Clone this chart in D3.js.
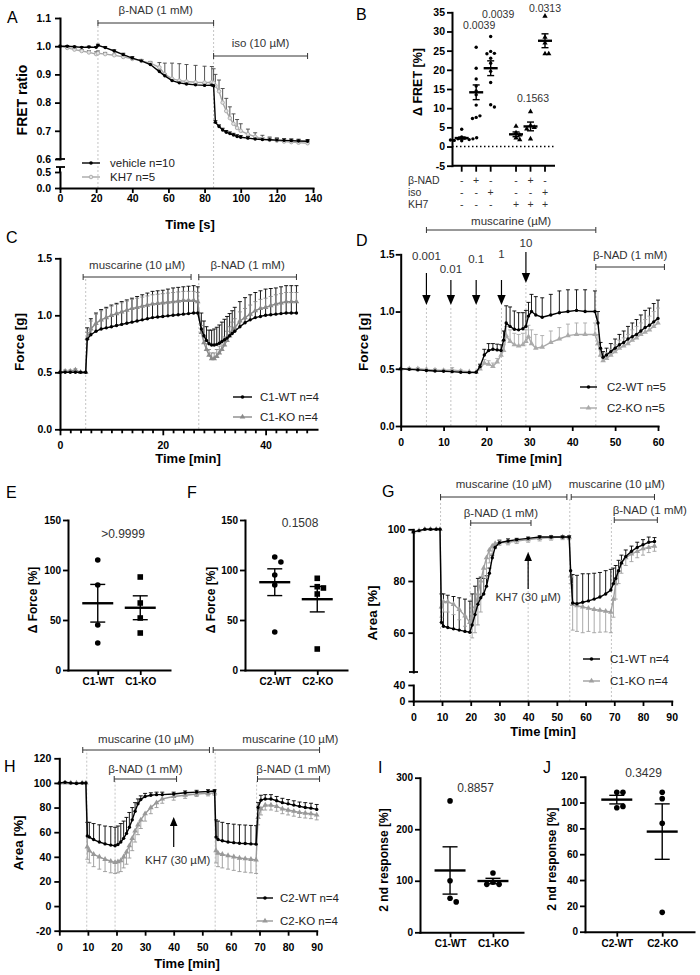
<!DOCTYPE html>
<html>
<head>
<meta charset="utf-8">
<script src="https://cdn.jsdelivr.net/npm/d3@7"></script>
<style>
body { margin: 0; background: #fff; }
svg { display: block; }
</style>
</head>
<body>
<svg id="fig" width="700" height="975"></svg>
<script>
// ---------------- data ----------------
// A: FRET ratio over time (s)
var aTime = [0,4,8,12,16,20,21,25,30,35,40,45,50,55,58,62,66,70,75,80,84,85,86,88,90,92,94,96,98,100,104,108,112,116,120,124,128,132,137];
var aVehicle = [1.0,1.0,0.998,0.996,0.997,0.996,1.003,0.995,0.983,0.97,0.958,0.948,0.935,0.91,0.895,0.878,0.87,0.866,0.863,0.861,0.862,0.86,0.73,0.715,0.703,0.695,0.69,0.685,0.68,0.677,0.674,0.671,0.669,0.668,0.667,0.666,0.665,0.664,0.663];
var aVehicleSem = [0,0.002,0.002,0.002,0.003,0.003,0.004,0.004,0.004,0.005,0.005,0.005,0.006,0.006,0.006,0.006,0.006,0.006,0.006,0.006,0.006,0.006,0.006,0.006,0.006,0.006,0.006,0.006,0.006,0.006,0.006,0.006,0.006,0.006,0.006,0.006,0.006,0.006,0.006];
var aKH7 = [1.0,0.994,0.988,0.983,0.978,0.972,0.975,0.972,0.968,0.962,0.955,0.948,0.94,0.925,0.9,0.885,0.878,0.875,0.872,0.871,0.872,0.87,0.86,0.84,0.8,0.77,0.745,0.725,0.71,0.7,0.688,0.679,0.672,0.668,0.665,0.662,0.66,0.658,0.656];
var aKH7Sem = [0,0.003,0.004,0.005,0.006,0.008,0.008,0.006,0.004,0.003,0.002,0.003,0.006,0.017,0.04,0.055,0.06,0.06,0.06,0.058,0.056,0.05,0.04,0.04,0.05,0.045,0.04,0.035,0.03,0.025,0.018,0.014,0.012,0.01,0.01,0.01,0.01,0.01,0.01];
var aTreat = [['β-NAD (1 mM)', 21, 85], ['iso (10 µM)', 85, 137]];
var aGuides = [21, 85];
var aTicksX = [0,20,40,60,80,100,120,140];
var aTicksUp = [0.6,0.7,0.8,0.9,1.0,1.1];
var aTicksLow = [0,0.5];

// B: delta FRET scatter
var bNAD = ['-','+','-','-','+','-'];
var bIso = ['-','-','+','-','-','+'];
var bKH7 = ['-','-','-','+','+','+'];
var bValues = [
  [4.5,2.5,2.2,2.0,1.8,1.6,1.5,2.0,1.7,2.3],
  [25.9,20.4,17.6,15.8,14.5,10.8,7.6,8.0,7.3,13.5],
  [28.7,24.8,24.3,24.2,23.0,21.7,19.6,16.7,10.9,10.3],
  [5.3,3.6,3.0,2.2,1.8],
  [9.1,5.5,5.0,4.6,2.0],
  [34.0,28.5,27.0,24.2,24.2]
];
var bPvals = ['', '0.0039', '0.0039', '', '0.1563', '0.0313'];
var bTicksY = [-5,0,5,10,15,20,25,30,35];

// C: force, C1
var cTime = [0,1,2,3,4,5,5.3,6,7,8,9,10,11,12,13,14,15,16,17,18,19,20,21,22,23,24,25,26,26.8,27.5,28,28.5,29,29.5,30,30.5,31,31.5,32,32.5,33,33.5,34,35,36,37,38,39,40,41,42,43,44,45,46];
var cWT = [0.5,0.5,0.5,0.5,0.5,0.5,0.79,0.83,0.86,0.88,0.89,0.9,0.91,0.92,0.93,0.94,0.95,0.96,0.97,0.98,0.985,0.99,0.995,1.0,1.005,1.01,1.015,1.02,1.02,0.88,0.82,0.78,0.75,0.74,0.74,0.745,0.755,0.77,0.785,0.8,0.82,0.84,0.86,0.9,0.935,0.96,0.98,0.99,1.0,1.005,1.01,1.015,1.02,1.02,1.02];
var cWTSem = [0,0,0,0,0,0,0.1,0.14,0.16,0.17,0.18,0.19,0.195,0.2,0.205,0.21,0.215,0.22,0.225,0.23,0.23,0.23,0.235,0.24,0.24,0.24,0.24,0.24,0.23,0.14,0.13,0.12,0.12,0.13,0.14,0.15,0.16,0.17,0.18,0.19,0.195,0.2,0.21,0.22,0.22,0.22,0.22,0.225,0.23,0.23,0.23,0.235,0.24,0.24,0.24];
var cKO = [0.5,0.51,0.51,0.52,0.5,0.5,0.8,0.88,0.93,0.96,0.98,1.0,1.015,1.03,1.045,1.06,1.07,1.08,1.09,1.1,1.105,1.11,1.115,1.12,1.125,1.13,1.13,1.13,1.12,0.85,0.76,0.7,0.65,0.62,0.62,0.64,0.67,0.7,0.74,0.78,0.82,0.86,0.89,0.95,0.98,1.01,1.04,1.06,1.07,1.085,1.1,1.11,1.12,1.12,1.12];
var cKOSem = [0,0.01,0.01,0.01,0,0,0.05,0.07,0.08,0.08,0.08,0.08,0.08,0.08,0.08,0.08,0.08,0.08,0.08,0.08,0.08,0.08,0.08,0.08,0.08,0.08,0.08,0.08,0.08,0.06,0.05,0.05,0.05,0.05,0.05,0.06,0.06,0.07,0.07,0.08,0.08,0.08,0.08,0.08,0.08,0.08,0.08,0.08,0.08,0.08,0.08,0.08,0.08,0.08,0.08];
var cTreat = [['muscarine (10 µM)', 4.5, 25.5], ['β-NAD (1 mM)', 27, 46]];
var cGuides = [5, 27];

// D: force, C2
var dTime = [0,2,4,6,8,10,12,14,16,17.6,18.5,19.5,20.5,21.5,22.5,23.4,24,24.6,25.5,26.5,27.5,28.5,29.2,29.8,30.5,31.5,33,35,37,39,41,43,45.3,46,46.6,47.2,48,49,50,51,52,53,54,55,56,57,58,59,60];
var dWT = [0.5,0.495,0.49,0.485,0.48,0.478,0.475,0.47,0.468,0.47,0.52,0.62,0.66,0.67,0.665,0.66,0.75,0.9,0.87,0.845,0.84,0.85,0.87,0.96,1.0,0.97,0.95,0.97,0.99,1.0,1.01,1.0,1.0,0.9,0.68,0.6,0.62,0.65,0.68,0.71,0.73,0.76,0.78,0.8,0.83,0.86,0.88,0.91,0.94];
var dWTSem = [0,0,0,0,0,0,0,0,0,0,0.02,0.05,0.06,0.05,0.05,0.05,0.08,0.15,0.17,0.16,0.15,0.14,0.14,0.12,0.15,0.16,0.17,0.18,0.19,0.19,0.18,0.19,0.18,0.1,0.05,0.05,0.06,0.07,0.08,0.09,0.1,0.11,0.12,0.13,0.14,0.15,0.15,0.16,0.16];
var dKO = [0.5,0.5,0.5,0.495,0.49,0.485,0.49,0.48,0.475,0.47,0.5,0.55,0.54,0.52,0.56,0.62,0.66,0.79,0.74,0.71,0.7,0.71,0.74,0.78,0.72,0.68,0.69,0.73,0.76,0.79,0.8,0.8,0.8,0.72,0.62,0.57,0.59,0.62,0.65,0.68,0.7,0.72,0.75,0.77,0.8,0.82,0.84,0.87,0.9];
var dKOSem = [0,0.01,0.01,0,0.01,0.01,0.02,0.01,0,0,0.01,0.03,0.03,0.03,0.03,0.04,0.05,0.08,0.1,0.1,0.1,0.1,0.1,0.1,0.12,0.12,0.1,0.1,0.1,0.1,0.1,0.1,0.1,0.08,0.05,0.05,0.05,0.05,0.06,0.07,0.07,0.08,0.09,0.1,0.1,0.11,0.12,0.13,0.13];
var dConcLabels = ['0.001','0.01','0.1','1','10'];
var dConcTimes = [6, 11.7, 17.6, 23.5, 29.2];
var dTreat = [['muscarine (µM)', 6, 45.5], ['β-NAD (1 mM)', 45.5, 61.5]];

// E, F: delta force
var eCats = ['C1-WT', 'C1-KO'];
var eWT = [110, 85, 45, 27];
var eKO = [93, 67, 52, 37];
var eP = '>0.9999';
var fCats = ['C2-WT', 'C2-KO'];
var fWT = [113, 108, 95, 85, 38];
var fKO = [91.7, 83.3, 82, 76, 21];
var fP = '0.1508';

// G: area, C1
var gTime = [0,2,4,6,8,9.3,9.8,10.5,12,14,16,18,19.7,20.5,21.5,22.5,23.5,24.5,25.5,26.5,27.5,28.5,30,33,36,40,44,48,52,54.3,54.8,55.5,57,59,61,63,65,67,68.8,69.7,70.5,71.5,72.5,74,76,78,80,82,84];
var gWT = [99,99.5,100,100,100,100,64,62.5,62,61.5,61,60.5,60.2,63,67,71,73.5,75,78,83,89,93,94.8,95.5,96,96.5,97,97,97,97,84,71.5,71.2,71.8,72.3,73,73.8,75,76.5,79,81,84,87,89.5,91.5,93,94,95,95.3];
var gWTSem = [0,0,0,0,0,0,11,12.5,12.5,12.5,12.5,12.5,12,12,11,10,8,6,4,2,1,1,1,0.8,0.5,0.5,0.5,0.5,0.5,0.5,0,11,11,11,10.5,10,9.5,9,8,6,5,4,3,2.5,2,2,2,2,1.5];
var gKO = [99,99.5,100,100,100,100,70,72,72,71,69,66.5,64,66,70,75,80,85,89,92,93.5,94.5,94.8,95,95.5,96,96.5,96.8,97,97,82,71,70.5,70,69.5,69,68.7,68.3,68,73,79,84,87,89,90.5,91.5,92.5,93,93.5];
var gKOSem = [0,0,0,0,0,0,4,4,4,4,4,4,4,8,10,12,12,10,8,5,3,2,1,1,1,1,1,1,1,1,3,10,10,10,9,9,8.5,8,8,7,6,5,4,3,3,2.5,2.5,2,2];
var gTreat = [['muscarine (10 µM)', 9.5, 53.5], ['muscarine (10 µM)', 55, 84], ['β-NAD (1 mM)', 20, 41], ['β-NAD (1 mM)', 70, 85]];
var gGuides = [9.5, 19.8, 40, 54.5, 69];
var gKH7Time = 40;

// H: area, C2
var hTime = [0,2,4,6,8,9.3,9.8,10.5,12,14,16,18,19.5,20.5,21.5,22.5,23.5,24.5,25.5,26.5,27.5,28.5,30,32,34,36,40,44,48,52,54.3,54.8,55.5,57,59,61,63,65,67,68.8,69.5,70.5,72,74,76,78,80,82,84,86,88,90];
var hWT = [100,100.5,100,99.5,100,100,57,56,54,52,50.5,49.5,49,50,52,55,59,64,70,77,83,86.5,89,90,90.5,90.5,91,92,92.5,93,93.5,56,54,53,52,51.5,51,50.8,50.5,50.3,80,86,87,87,85.5,84,83,82,81,80,79.5,78.5];
var hWTSem = [0,0,0,0,0,0,11,12,13,14,14.5,15,15,15,15,14,13,12,10,7,4,3,2.5,2,2,2,1.5,1.5,1.5,1.5,1,14,15,15,15,15,15,15,15,15,4,4,3.5,3.5,3.5,3.5,3.5,3.5,3.5,4,4,4];
var hKO = [100,100,100,100,100,100,48,45,42,40,38,36.5,35.5,36,37,40,44,49,55,61,66,70,75,80,84,87,89,90,91,91.5,92,45,43,42,41,40,39,38.5,38,37.5,72,79,82,82,81,79,78,77,76,75.5,75,74];
var hKOSem = [0,0,0,0,0,0,10,10,10,10,10,9.5,9,9,9,9,10,10,10,9,8,7,6,5,4,3.5,3,2.5,2,2,2,10,11,11,11,11,11,11,11,11,6,5,4,4,4,4,4,4,4,4,4,4];
var hTreat = [['muscarine (10 µM)', 8.2, 52.5], ['muscarine (10 µM)', 53.8, 91], ['β-NAD (1 mM)', 19.2, 41], ['β-NAD (1 mM)', 69.3, 91]];
var hGuides = [9.6, 19.5, 54.5, 69];
var hKH7Time = 40;

// I, J: 2nd response
var iCats = ['C1-WT', 'C1-KO'];
var iWT = [255, 100, 66, 59];
var iKO = [115, 97, 93, 93];
var iP = '0.8857';
var jCats = ['C2-WT', 'C2-KO'];
var jWT = [108, 108, 96, 97];
var jKO = [108, 103, 84, 15];
var jP = '0.3429';

// ---------------- helpers ----------------
var FONT = '"Liberation Sans", Arial, Helvetica, sans-serif';
var svg = d3.select('#fig').attr('font-family', FONT);
var fmt1 = d3.format('.1f');
var plain = function(d) { return String(d); };

function txt(x, y, s, opt) {
	opt = opt || {};
	return svg.append('text')
		.attr('x', x)
		.attr('y', y)
		.attr('text-anchor', opt.anchor || 'start')
		.attr('font-size', (opt.size || 11.5) + 'px')
		.attr('font-weight', opt.bold ? 'bold' : 'normal')
		.attr('fill', opt.fill || '#000')
		.text(s);
}

function line(x1, y1, x2, y2, color, w, dash) {
	var l = svg.append('line')
		.attr('x1', x1).attr('y1', y1)
		.attr('x2', x2).attr('y2', y2)
		.attr('stroke', color || '#000')
		.attr('stroke-width', w || 1);
	if (dash) l.attr('stroke-dasharray', dash);
	return l;
}

function styleAxis(g, fs) {
	g.attr('font-family', FONT).attr('font-size', fs || 10.5).attr('font-weight', 'bold');
	g.select('.domain').attr('stroke-width', 2).attr('stroke', '#000').attr('stroke-linecap', 'square');
	g.selectAll('.tick line').attr('stroke-width', 1.8).attr('stroke', '#000');
	g.selectAll('.tick text').attr('fill', '#000');
	return g;
}

function yAxis(scale, x, ticks, f, pad, fs) {
	return styleAxis(svg.append('g')
		.attr('transform', 'translate(' + x + ',0)')
		.call(d3.axisLeft(scale).tickValues(ticks).tickFormat(f).tickSize(5).tickSizeOuter(0).tickPadding(pad == null ? 3 : pad)), fs);
}

function xAxis(scale, y, ticks, f, pad, fs) {
	return styleAxis(svg.append('g')
		.attr('transform', 'translate(0,' + y + ')')
		.call(d3.axisBottom(scale).tickValues(ticks).tickFormat(f).tickSize(5).tickSizeOuter(0).tickPadding(pad == null ? 3 : pad)), fs);
}

function yTitle(s, x, y, size) {
	svg.append('text')
		.attr('transform', 'translate(' + x + ',' + y + ') rotate(-90)')
		.attr('text-anchor', 'middle')
		.attr('dy', '0.35em')
		.attr('font-size', (size || 13) + 'px')
		.attr('font-weight', 'bold')
		.text(s);
}

function xTitle(s, x, y) {
	txt(x, y, s, {anchor: 'middle', size: 13, bold: true});
}

function letter(s, x, y) {
	txt(x, y, s, {size: 16});
}

function mark(x, y, color, marker, r) {
	r = r || 1.7;
	if (marker === 'tri') {
		svg.append('path')
			.attr('d', d3.symbol().type(d3.symbolTriangle).size(r * r * 4.2)())
			.attr('transform', 'translate(' + x + ',' + y + ')')
			.attr('fill', color);
	} else if (marker === 'square') {
		svg.append('rect')
			.attr('x', x - r).attr('y', y - r)
			.attr('width', 2 * r).attr('height', 2 * r)
			.attr('fill', color);
	} else if (marker === 'open') {
		svg.append('circle')
			.attr('cx', x).attr('cy', y).attr('r', r)
			.attr('fill', '#e4e4e4').attr('stroke', color).attr('stroke-width', 0.9);
	} else {
		svg.append('circle')
			.attr('cx', x).attr('cy', y).attr('r', r)
			.attr('fill', color);
	}
}

// error bars of a time course, dir = 1 up, -1 down
function errBars(xs, ys, t, m, e, dir, color) {
	t.forEach(function(tt, i) {
		if (!e[i]) return;
		var x = xs(tt), y0 = ys(m[i]), y1 = ys(m[i] + dir * e[i]);
		line(x, y0, x, y1, color, 0.9);
		line(x - 2, y1, x + 2, y1, color, 0.9);
	});
}

function trace(xs, ys, t, m, color, marker, r) {
	var pts = t.map(function(tt, i) { return [xs(tt), ys(m[i])]; });
	svg.append('path')
		.attr('d', d3.line()(pts))
		.attr('fill', 'none')
		.attr('stroke', color)
		.attr('stroke-width', 1.4);
	pts.forEach(function(p) { mark(p[0], p[1], color, marker, r); });
}

function treat(x0, x1, y, label, ly, shift) {
	line(x0, y, x1, y, '#333', 1);
	line(x0, y - 3, x0, y + 3, '#333', 1);
	line(x1, y - 3, x1, y + 3, '#333', 1);
	txt((x0 + x1) / 2 + (shift || 0), ly, label, {anchor: 'middle', size: 11.5, fill: '#333'});
}

function guide(x, y0, y1) {
	line(x, y0, x, y1, '#c4c4c4', 1, '2,2');
}

function arrow(x, yFrom, yTip, hl) {
	var dir = yTip > yFrom ? 1 : -1;
	hl = hl || 10;
	var hw = hl * 0.42;
	line(x, yFrom, x, yTip - dir * hl, '#000', 1.2);
	svg.append('path')
		.attr('d', 'M' + x + ',' + yTip + 'L' + (x - hw) + ',' + (yTip - dir * hl) + 'L' + (x + hw) + ',' + (yTip - dir * hl) + 'Z')
		.attr('fill', '#000');
}

function legend(x0, x1, y, tx, label, color, marker) {
	line(x0, y, x1, y, color, 1.4);
	mark((x0 + x1) / 2, y, color, marker, 1.8);
	txt(tx, y + 4, label, {size: 11.5, fill: '#222'});
}

// dots spread sideways when they overlap, plus mean and SEM
function dotGroup(cx, vals, ys, marker, r, meanW, capW) {
	var placed = [];
	var ks = [0, 1, -1, 2, -2, 3, -3, 4, -4];
	vals.forEach(function(v) {
		var y = ys(v), x = cx;
		for (var j = 0; j < ks.length; j++) {
			var xx = cx + ks[j] * r * 2.2;
			var ok = placed.every(function(p) { return Math.hypot(p[0] - xx, p[1] - y) >= r * 2.1; });
			if (ok) { x = xx; break; }
		}
		placed.push([x, y]);
	});
	placed.forEach(function(p) { mark(p[0], p[1], '#000', marker, r); });
	var m = d3.mean(vals);
	var se = d3.deviation(vals) / Math.sqrt(vals.length);
	line(cx - meanW / 2, ys(m), cx + meanW / 2, ys(m), '#000', 2.4);
	line(cx, ys(m - se), cx, ys(m + se), '#000', 1.4);
	line(cx - capW / 2, ys(m - se), cx + capW / 2, ys(m - se), '#000', 1.4);
	line(cx - capW / 2, ys(m + se), cx + capW / 2, ys(m + se), '#000', 1.4);
}

function dotPanel(cats, wt, ko, koMarker, p, x0, x1, ys, yTicks, title, titleX, pY) {
	var xs = d3.scalePoint().domain(cats).range([x0, x1]).padding(0.7);
	var y0 = ys.range()[0];
	dotGroup(xs(cats[0]), wt, ys, 'circle', 2.8, 31, 15);
	dotGroup(xs(cats[1]), ko, ys, koMarker, 2.8, 31, 15);
	yAxis(ys, x0, yTicks, plain, 2, 10);
	xAxis(xs, y0, cats, null, 3, 10);
	txt((x0 + x1) / 2 + 4, pY, p, {anchor: 'middle', size: 12, fill: '#333'});
	yTitle(title, titleX, (ys.range()[0] + ys.range()[1]) / 2 + 5, 12);
}

// ---------------- panel A ----------------
var ax = d3.scaleLinear().domain([0, 140]).range([60, 313]);
var ayUp = d3.scaleLinear().domain([0.6, 1.1]).range([159, 18]);
var ayLow = d3.scaleLinear().domain([0, 0.5]).range([188, 172]);
aGuides.forEach(function(t) { guide(ax(t), 188, 23); });
var aTreatY = [[23, 14], [56, 47]];
aTreat.forEach(function(d, i) { treat(ax(d[1]), ax(d[2]), aTreatY[i][0], d[0], aTreatY[i][1]); });
errBars(ax, ayUp, aTime, aVehicle, aVehicleSem, 1, '#000');
errBars(ax, ayUp, aTime, aKH7, aKH7Sem, 1, '#444');
trace(ax, ayUp, aTime, aKH7, '#a8a8a8', 'open', 1.8);
trace(ax, ayUp, aTime, aVehicle, '#000', 'circle', 1.7);
yAxis(ayUp, 60, aTicksUp, fmt1, 4);
yAxis(ayLow, 60, aTicksLow, fmt1, 4);
line(60, 172, 60, 167, '#000', 2);
line(56, 159, 65, 159, '#000', 1.8);
line(56, 167, 65, 167, '#000', 1.8);
xAxis(ax, 188, aTicksX, plain, 1.5);
legend(82, 100, 163, 110, 'vehicle n=10', '#000', 'circle');
legend(82, 100, 177, 110, 'KH7 n=5', '#a8a8a8', 'open');
yTitle('FRET ratio', 22, 100, 14);
xTitle('Time [s]', 190, 229);
letter('A', 7, 23);

// ---------------- panel B ----------------
var bSlot = function(i) { return i + (i >= 3 ? 0.75 : 0); };
var bx = d3.scaleLinear().domain([0, 5.75]).range([461.7, 545]);
var by = d3.scaleLinear().domain([-5, 35]).range([165.7, 12.3]);
line(452, by(0), 555, by(0), '#000', 1.4, '1.5,2.5');
bValues.forEach(function(vals, i) {
	dotGroup(bx(bSlot(i)), vals, by, i < 3 ? 'circle' : 'tri', 1.7, 14, 7);
});
yAxis(by, 452, bTicksY, plain, 2);
line(452, by(-5), 555, by(-5), '#000', 2);
bValues.forEach(function(vals, i) {
	line(bx(bSlot(i)), by(-5), bx(bSlot(i)), by(-5) + 6, '#000', 1.8);
});
var bRows = [['β-NAD', bNAD, 184], ['iso', bIso, 196], ['KH7', bKH7, 208]];
bRows.forEach(function(r) {
	txt(408, r[2], r[0], {size: 10.5, fill: '#333'});
	r[1].forEach(function(s, i) { txt(bx(bSlot(i)), r[2], s, {anchor: 'middle', size: 10.5, fill: '#333'}); });
});
var bPLayout = [null, [3, 29], [7.5, 17.5], null, [2.5, 101.5], [0, 11.5]];
bPvals.forEach(function(p, i) {
	if (!p) return;
	txt(bx(bSlot(i)) + bPLayout[i][0], bPLayout[i][1], p, {anchor: 'middle', size: 10.5, fill: '#333'});
});
yTitle('Δ FRET [%]', 418, 82, 12.5);
letter('B', 356, 20);

// ---------------- panel C ----------------
var cx = d3.scaleLinear().domain([0, 50]).range([60, 317]);
var cy = d3.scaleLinear().domain([0, 1.5]).range([429.3, 258.3]);
cGuides.forEach(function(t) { guide(cx(t), 429, 277); });
cTreat.forEach(function(d) { treat(cx(d[1]), cx(d[2]), 277, d[0], 269); });
errBars(cx, cy, cTime, cWT, cWTSem, 1, '#000');
errBars(cx, cy, cTime, cKO, cKOSem, 1, '#8a8a8a');
trace(cx, cy, cTime, cKO, '#8a8a8a', 'tri', 1.8);
trace(cx, cy, cTime, cWT, '#000', 'circle', 1.7);
yAxis(cy, 60, [0, 0.5, 1.0, 1.5], fmt1);
var cAxis = xAxis(cx, 429.3, d3.range(0, 50, 2), function(d) { return d % 20 === 0 ? String(d) : ''; }, 7);
cAxis.selectAll('.tick line').attr('y2', function(d) { return d % 20 === 0 ? 6 : 4; });
legend(233, 252, 397, 260, 'C1-WT n=4', '#000', 'circle');
legend(233, 252, 417, 260, 'C1-KO n=4', '#8a8a8a', 'tri');
yTitle('Force [g]', 19, 342, 13.5);
xTitle('Time [min]', 188, 463);
letter('C', 6, 243);

// ---------------- panel D ----------------
var dx = d3.scaleLinear().domain([0, 60]).range([400.7, 658]);
var dy = d3.scaleLinear().domain([0, 1.5]).range([426, 254.3]);
// label baseline, arrow start, arrow tip
var dArrowLayout = [[260, 273, 305], [273, 280, 305], [263, 280, 305], [258, 280, 305], [247, 252, 283]];
dConcTimes.forEach(function(t, i) {
	var lay = dArrowLayout[i];
	guide(dx(t), 426, lay[2] + 2);
	arrow(dx(t), lay[1], lay[2], 10);
	txt(dx(t), lay[0], dConcLabels[i], {anchor: 'middle', size: 11.5, fill: '#333'});
});
guide(dx(45.5), 426, 267);
treat(dx(dTreat[0][1]), dx(dTreat[0][2]), 230, dTreat[0][0], 225);
treat(dx(dTreat[1][1]), dx(dTreat[1][2]), 267, dTreat[1][0], 259);
errBars(dx, dy, dTime, dWT, dWTSem, 1, '#000');
errBars(dx, dy, dTime, dKO, dKOSem, 1, '#aaa');
trace(dx, dy, dTime, dKO, '#aaa', 'tri', 1.8);
trace(dx, dy, dTime, dWT, '#000', 'circle', 1.7);
yAxis(dy, 400.7, [0, 0.5, 1.0, 1.5], fmt1, 1);
xAxis(dx, 426, [0, 10, 20, 30, 40, 50, 60], plain, 8);
legend(580, 597, 387, 607, 'C2-WT n=5', '#000', 'circle');
legend(580, 597, 408, 607, 'C2-KO n=5', '#aaa', 'tri');
yTitle('Force [g]', 363, 342, 13.5);
xTitle('Time [min]', 529, 463);
letter('D', 356, 246);

// ---------------- panels E, F ----------------
var efy = d3.scaleLinear().domain([0, 150]).range([670, 520]);
dotPanel(eCats, eWT, eKO, 'square', eP, 68, 170, efy, [0, 50, 100, 150], 'Δ Force [%]', 33, 538);
dotPanel(fCats, fWT, fKO, 'square', fP, 245, 347, efy, [0, 50, 100, 150], 'Δ Force [%]', 211, 527);
letter('E', 6, 498);
letter('F', 187, 498);

// ---------------- panel G ----------------
var gx = d3.scaleLinear().domain([0, 90]).range([413.3, 671.7]);
var gyUp = d3.scaleLinear().domain([44.8, 100]).range([672, 529.3]);
var gyLow = d3.scaleLinear().domain([0, 40]).range([701, 685]);
var gGuideTop = [497, 523, 552, 497, 520];
gGuides.forEach(function(t, i) { guide(gx(t), 701, gGuideTop[i]); });
var gTreatLayout = [[497, 488, 0], [497, 488, 4], [523, 517, 0], [520, 514, 14]];
gTreat.forEach(function(d, i) { treat(gx(d[1]), gx(d[2]), gTreatLayout[i][0], d[0], gTreatLayout[i][1], gTreatLayout[i][2]); });
errBars(gx, gyUp, gTime, gWT, gWTSem, 1, '#000');
errBars(gx, gyUp, gTime, gKO, gKOSem, -1, '#a0a0a0');
trace(gx, gyUp, gTime, gKO, '#a0a0a0', 'tri', 1.8);
trace(gx, gyUp, gTime, gWT, '#000', 'circle', 1.7);
arrow(gx(gKH7Time), 589, 552, 9);
txt(gx(gKH7Time), 601, 'KH7 (30 µM)', {anchor: 'middle', size: 11.5, fill: '#333'});
yAxis(gyUp, 413.3, [60, 80, 100], plain);
yAxis(gyLow, 413.3, [0, 40], plain);
line(409, 672, 418, 672, '#000', 1.8);
xAxis(gx, 701, [0, 10, 20, 30, 40, 50, 60, 70, 80, 90], plain, 8);
legend(583, 600, 659, 610, 'C1-WT n=4', '#000', 'circle');
legend(583, 600, 681, 610, 'C1-KO n=4', '#a0a0a0', 'tri');
yTitle('Area [%]', 372, 613, 13.5);
xTitle('Time [min]', 543, 736);
letter('G', 382, 497);

// ---------------- panel H ----------------
var hx = d3.scaleLinear().domain([0, 90]).range([59.3, 316.7]);
var hy = d3.scaleLinear().domain([-20, 120]).range([930.7, 758.3]);
var hGuideTop = [750, 779, 750, 779];
hGuides.forEach(function(t, i) { guide(hx(t), 930.7, hGuideTop[i]); });
var hTreatLayout = [[750, 743, 0], [750, 743, 24], [779, 773, 0], [779, 773, 5]];
hTreat.forEach(function(d, i) { treat(hx(d[1]), hx(d[2]), hTreatLayout[i][0], d[0], hTreatLayout[i][1], hTreatLayout[i][2]); });
errBars(hx, hy, hTime, hWT, hWTSem, 1, '#000');
errBars(hx, hy, hTime, hKO, hKOSem, -1, '#999');
trace(hx, hy, hTime, hKO, '#999', 'tri', 1.8);
trace(hx, hy, hTime, hWT, '#000', 'circle', 1.7);
arrow(hx(hKH7Time), 847, 817, 9);
txt(hx(hKH7Time) + 4, 864, 'KH7 (30 µM)', {anchor: 'middle', size: 11.5, fill: '#333'});
yAxis(hy, 59.3, [-20, 0, 20, 40, 60, 80, 100, 120], plain);
xAxis(hx, 930.7, [0, 10, 20, 30, 40, 50, 60, 70, 80, 90], plain, 8);
legend(257, 273, 898, 280, 'C2-WT n=4', '#000', 'circle');
legend(257, 273, 921, 280, 'C2-KO n=4', '#999', 'tri');
yTitle('Area [%]', 18, 843, 13.5);
xTitle('Time [min]', 187, 968);
letter('H', 4, 772);

// ---------------- panels I, J ----------------
var iy = d3.scaleLinear().domain([0, 300]).range([932.3, 777.7]);
dotPanel(iCats, iWT, iKO, 'circle', iP, 420, 523, iy, [0, 100, 200, 300], '2 nd response [%]', 384, 792);
var jy = d3.scaleLinear().domain([0, 120]).range([931.7, 776.7]);
dotPanel(jCats, jWT, jKO, 'circle', jP, 585, 694, jy, [0, 20, 40, 60, 80, 100, 120], '2 nd response [%]', 552, 777);
letter('I', 378, 773);
letter('J', 543, 773);
</script>
</body>
</html>
